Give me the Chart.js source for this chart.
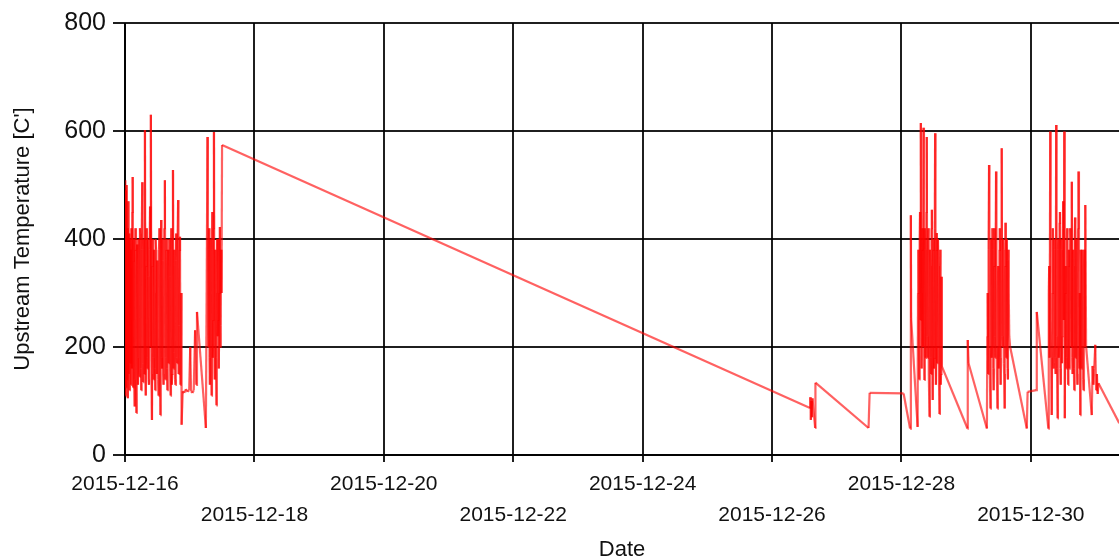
<!DOCTYPE html>
<html><head><meta charset="utf-8">
<script src="https://cdn.jsdelivr.net/npm/chart.js@4/dist/chart.umd.min.js"></script>
<style>html,body{margin:0;padding:0;background:#fff;overflow:hidden}</style>
</head><body>
<canvas id="c" width="1119" height="558"></canvas>
<script>
// x values: hours since 2015-12-16 00:00, y values: upstream temperature [C']
const dateLabels = ['2015-12-16','2015-12-18','2015-12-20','2015-12-22','2015-12-24','2015-12-26','2015-12-28','2015-12-30'];
const yTicks = [0, 200, 400, 600, 800];

const dec16 = [[0.00,509],[0.15,110],[0.30,490],[0.45,125],[0.60,500],[0.75,140],[0.90,420],[1.05,105],[1.20,470],[1.35,150],
[1.50,410],[1.65,120],[1.80,400],[1.95,170],[2.10,380],[2.25,130],[2.40,420],[2.55,160],[2.70,450],[2.85,515],
[3.00,125],[3.15,360],[3.30,400],[3.45,140],[3.60,90],[3.75,380],[3.90,420],[4.05,150],[4.20,78],[4.35,350],
[4.50,390],[4.65,180],[4.80,130],[4.95,400],[5.10,300],[5.25,150],[5.40,145],[5.55,420],[5.70,410],[5.85,160],
[6.00,120],[6.15,380],[6.40,505],[6.55,170],[6.70,135],[6.85,400],[7.00,380],[7.20,150],[7.40,602],[7.55,200],
[7.70,110],[7.85,350],[8.00,420],[8.15,180],[8.30,160],[8.45,400],[8.60,330],[8.75,140],[8.90,130],[9.10,380],
[9.30,460],[9.45,200],[9.60,630],[9.80,150],[10.00,65],[10.15,350],[10.30,400],[10.45,180],[10.60,140],[10.75,380],
[10.90,300],[11.05,160],[11.20,120],[11.35,400],[11.50,380],[11.65,200],[11.80,150],[11.95,360],[12.10,250],[12.25,140],
[12.40,110],[12.60,380],[12.80,420],[12.95,200],[13.10,74],[13.25,300],[13.40,435],[13.55,180],[13.70,160],[13.85,400],
[14.00,360],[14.15,150],[14.30,130],[14.55,420],[14.80,509],[14.95,140],[15.10,180],[15.25,380],[15.40,400],[15.55,160],
[15.70,120],[15.85,350],[16.00,380],[16.15,170],[16.30,200],[16.45,400],[16.60,330],[16.75,150],[16.90,110],[17.05,380],
[17.20,420],[17.35,130],[17.50,150],[17.65,400],[17.80,528],[17.95,160],[18.10,190],[18.25,380],[18.40,350],[18.55,140],
[18.70,130],[18.85,360],[19.00,410],[19.15,180],[19.30,170],[19.50,400],[19.70,472],[19.85,150],[20.00,240],[20.20,380],
[20.40,404],[20.55,130],[20.70,150],[20.85,300],[21.00,56],[21.40,118],[22.00,115],[22.60,122],[23.20,117],[23.80,120],
[24.20,200],[24.50,118],[25.00,115],[25.50,120],[26.00,231],[26.40,130],[26.70,265]];

const dec17 = [[30.00,50],[30.60,589],[30.75,250],[30.90,200],[31.05,380],[31.20,420],[31.35,180],[31.50,130],[31.65,400],
[31.80,350],[31.95,200],[32.10,110],[32.25,380],[32.40,450],[32.55,180],[32.70,250],[32.85,420],[33.00,598],[33.15,200],
[33.30,140],[33.45,380],[33.60,300],[33.75,180],[33.90,92],[34.05,350],[34.20,400],[34.35,220],[34.50,250],[34.65,400],
[34.80,160],[35.00,300],[35.20,422],[35.35,200],[35.50,240],[35.65,380],[35.80,300],[36.00,574]];

const dec26to27 = [[254.1,87],[254.2,107],[254.4,65],[254.6,100],[254.8,70],[255.0,105],[256.0,50],[256.1,134],
[275.8,50],[276.2,115],[288.8,114]];

const dec28 = [[291.20,49],[291.50,444],[291.60,253],[294.00,52],[294.15,300],[294.30,380],[294.45,200],[294.60,140],
[294.75,400],[294.90,450],[295.05,250],[295.20,615],[295.35,300],[295.50,160],[295.65,380],[295.80,420],[295.95,200],
[296.20,606],[296.35,250],[296.50,139],[296.65,420],[296.80,380],[296.95,180],[297.10,200],[297.25,450],[297.40,589],
[297.55,220],[297.70,180],[297.85,400],[298.00,420],[298.15,150],[298.40,71],[298.55,380],[298.70,350],[298.85,180],
[299.00,150],[299.15,420],[299.30,454],[299.45,200],[299.60,102],[299.75,380],[299.90,400],[300.05,160],[300.20,180],
[300.35,420],[300.50,596],[300.65,200],[300.80,130],[300.95,380],[301.10,411],[301.25,170],[301.40,200],[301.55,400],
[301.70,350],[301.90,150],[302.10,76],[302.25,300],[302.40,380],[302.55,130],[302.70,150],[302.85,330],[303.00,164],
[312.50,49],[312.60,213],[312.90,170]];

const dec29 = [[319.70,49],[319.85,220],[320.00,300],[320.15,150],[320.30,380],[320.50,537],[320.65,200],[320.80,150],
[321.00,86],[321.15,300],[321.30,400],[321.45,180],[321.60,200],[321.75,420],[321.90,380],[322.05,160],[322.20,120],
[322.35,350],[322.50,420],[322.65,220],[322.80,180],[322.95,400],[323.10,525],[323.25,200],[323.40,150],[323.60,86],
[323.75,300],[323.90,350],[324.05,160],[324.20,200],[324.35,380],[324.50,420],[324.65,180],[324.80,130],[325.00,400],
[325.20,568],[325.35,220],[325.50,200],[325.65,400],[325.80,380],[325.95,170],[326.10,150],[326.30,86],[326.45,350],
[326.60,430],[326.75,200],[326.90,180],[327.05,400],[327.20,360],[327.35,160],[327.50,140],[327.65,380],[327.80,300],
[328.00,220],[328.30,201],[334.50,49],[334.80,117],[338.00,120],[338.20,265]];

const dec30 = [[342.50,49],[342.65,300],[342.80,350],[342.95,180],[343.20,599],[343.35,250],[343.50,180],[343.75,74],
[344.00,300],[344.15,420],[344.30,170],[344.45,160],[344.60,200],[344.75,400],[344.90,380],[345.05,180],[345.20,150],
[345.40,611],[345.55,220],[345.70,160],[345.90,68],[346.05,380],[346.20,400],[346.35,180],[346.50,200],[346.65,430],
[346.80,450],[346.95,160],[347.10,130],[347.25,400],[347.40,380],[347.55,170],[347.70,220],[347.85,420],[348.00,470],
[348.20,250],[348.40,599],[348.60,68],[348.75,300],[348.90,350],[349.05,180],[349.20,160],[349.35,400],[349.50,420],
[349.65,200],[349.80,130],[349.95,350],[350.10,380],[350.25,160],[350.40,200],[350.60,420],[350.80,400],[351.00,200],
[351.20,506],[351.35,180],[351.50,150],[351.65,380],[351.80,350],[351.95,160],[352.10,120],[352.25,400],[352.40,440],
[352.55,180],[352.70,200],[352.85,400],[353.00,380],[353.15,150],[353.30,130],[353.50,420],[353.70,525],[353.85,200],
[354.00,160],[354.15,300],[354.30,74],[354.45,380],[354.60,350],[354.75,160],[354.90,200],[355.05,380],[355.20,300],
[355.35,140],[355.50,120],[355.70,350],[355.90,380],[356.05,200],[356.20,463],[356.50,201],[358.60,74],[358.90,165],
[359.20,130],[359.50,160],[359.90,204],[360.20,120],[360.50,150],[360.80,113],[361.10,133],[368.80,59],[370.00,47]];

const series = [].concat(dec16, dec17, dec26to27, dec28, dec29, dec30).map(p => ({x: p[0], y: p[1]}));

const FONT = "'Liberation Sans', Arial, sans-serif";
const GRID = 'rgba(0,0,0,0.88)';

new Chart(document.getElementById('c'), {
  type: 'line',
  data: { datasets: [{
    data: series,
    borderWidth: 2.2,
    borderColor: 'rgba(255,0,0,0.62)',
    segment: { borderColor: c => (c.p0DataIndex % 2 ? 'rgba(255,0,0,0.62)' : 'rgba(254,0,0,0.62)') },
    pointRadius: 0, tension: 0, fill: false, borderJoinStyle: 'miter'
  }]},
  options: {
    responsive: false, animation: false,
    layout: { padding: { top: 23, left: 0, right: 0, bottom: 0 } },
    plugins: { legend: { display: false }, tooltip: { enabled: false } },
    scales: {
      x: {
        type: 'linear', min: 0, max: 368.7,
        afterFit: s => { s.height = 103; },
        grid: { color: GRID, lineWidth: 2, tickLength: 7, drawTicks: true },
        border: { color: GRID, width: 2 },
        ticks: {
          stepSize: 48, includeBounds: false, autoSkip: false, maxRotation: 0, padding: 6,
          color: '#111', font: { family: FONT, size: 21, lineHeight: 1.5 },
          callback: (v, i) => { const l = dateLabels[Math.round(v / 48)]; return i % 2 ? ['', l] : l; }
        },
        title: { display: true, text: 'Date', color: '#111', font: { family: FONT, size: 22, lineHeight: 0.7 }, padding: { top: 0, bottom: 0 } }
      },
      y: {
        min: 0, max: 800,
        afterFit: s => { s.width = 125; },
        afterBuildTicks: s => { s.ticks = yTicks.map(v => ({ value: v })); },
        grid: { color: GRID, lineWidth: 2, tickLength: 12, drawTicks: true },
        border: { color: GRID, width: 2 },
        ticks: { padding: 7, color: '#111', font: { family: FONT, size: 25 } },
        title: { display: true, text: "Upstream Temperature [C']", color: '#111', font: { family: FONT, size: 22 }, padding: { top: 10, bottom: 0 } }
      }
    }
  }
});
</script>
</body></html>
